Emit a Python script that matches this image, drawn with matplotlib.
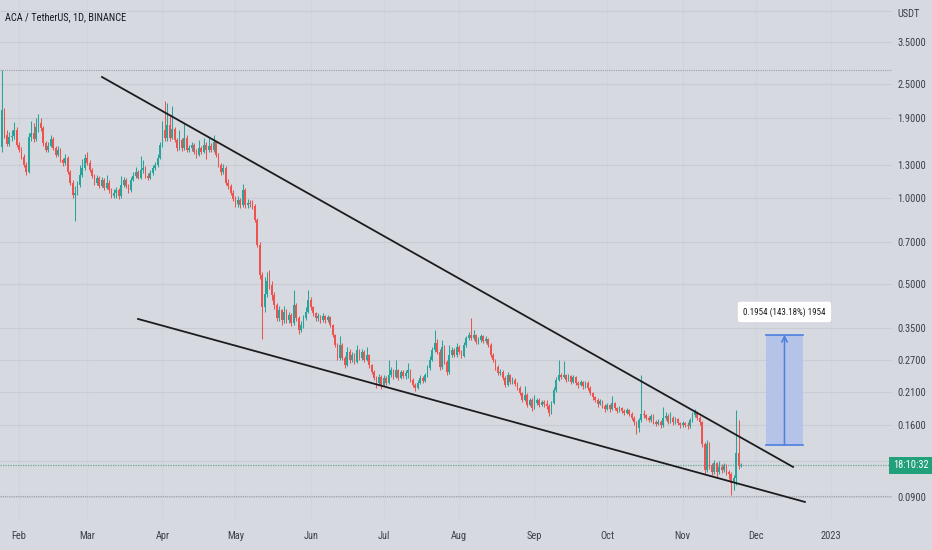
import matplotlib
matplotlib.use("Agg")
import matplotlib.pyplot as plt
import matplotlib.dates as mdates
import matplotlib.font_manager as fm
from matplotlib.font_manager import FontProperties
from matplotlib.ticker import NullLocator, FixedLocator
from datetime import datetime, timedelta

# ---------------- data ----------------
first_date = datetime(2022, 1, 25)
first_open = 1.50
close = [
 2.02, 1.66, 1.54, 1.63, 1.64, 1.73, 1.53, 1.47, 1.39, 1.30,
 1.23, 1.63, 1.68, 1.61, 1.76, 1.83, 1.75, 1.55, 1.47, 1.52,
 1.61, 1.49, 1.41, 1.47, 1.355, 1.32, 1.38, 1.23, 1.13, 1.02,
 1.04, 1.11, 1.20, 1.27, 1.38, 1.32, 1.25, 1.19, 1.13, 1.17,
 1.10, 1.15, 1.08, 1.13, 1.06, 1.015, 1.04, 1.06, 1.015, 1.11, 1.15,
 1.10, 1.064, 1.153, 1.19, 1.23, 1.175, 1.25, 1.27, 1.19, 1.175,
 1.22, 1.27, 1.30, 1.38, 1.53, 1.72, 1.62, 1.80, 1.62, 1.74,
 1.59, 1.49, 1.59, 1.49, 1.62, 1.47, 1.49, 1.53, 1.45, 1.41,
 1.49, 1.45, 1.53, 1.47, 1.52, 1.47, 1.56, 1.41, 1.30, 1.23,
 1.27, 1.13, 1.10, 1.04, 0.99, 0.95, 0.98, 0.943, 1.06, 0.943,
 0.96, 0.95, 0.935, 0.836, 0.684, 0.537, 0.415, 0.46, 0.51, 0.496, 0.457,
 0.422, 0.38, 0.405, 0.374, 0.40, 0.374, 0.389, 0.365, 0.422, 0.38,
 0.345, 0.359, 0.38, 0.40, 0.439, 0.415, 0.395, 0.38, 0.385, 0.374,
 0.385, 0.374, 0.383, 0.359, 0.331, 0.306, 0.275, 0.306, 0.275, 0.26,
 0.29, 0.271, 0.282, 0.267, 0.294, 0.275, 0.29, 0.271, 0.282, 0.26,
 0.246, 0.235, 0.226, 0.237, 0.222, 0.235, 0.226, 0.24, 0.25, 0.237,
 0.25, 0.235, 0.246, 0.238, 0.244, 0.25, 0.231, 0.222, 0.217, 0.226, 0.235,
 0.229, 0.24, 0.254, 0.271, 0.294, 0.31, 0.29, 0.256, 0.30, 0.267,
 0.246, 0.282, 0.294, 0.282, 0.30, 0.29, 0.28, 0.306, 0.323, 0.331,
 0.323, 0.331, 0.313, 0.318, 0.328, 0.315, 0.32, 0.306, 0.282, 0.271,
 0.256, 0.244, 0.246, 0.235, 0.222, 0.24, 0.227, 0.231, 0.224, 0.217,
 0.208, 0.197, 0.2045, 0.189, 0.197, 0.184, 0.192, 0.197, 0.189, 0.194,
 0.19, 0.187, 0.177, 0.192, 0.213, 0.231, 0.24, 0.237, 0.24, 0.231, 0.238,
 0.227, 0.237, 0.226, 0.221, 0.227, 0.219, 0.226, 0.217, 0.208, 0.201,
 0.197, 0.19, 0.195, 0.187, 0.183, 0.189, 0.183, 0.192, 0.184, 0.18,
 0.184, 0.18, 0.177, 0.181, 0.176, 0.17, 0.164, 0.157, 0.167, 0.175,
 0.174, 0.17, 0.167, 0.173, 0.165, 0.162, 0.165, 0.16, 0.17, 0.173,
 0.165, 0.17, 0.164, 0.168, 0.163, 0.16, 0.163, 0.161, 0.159, 0.167, 0.174,
 0.178, 0.17, 0.164, 0.138, 0.112, 0.138, 0.1164, 0.11, 0.118, 0.11,
 0.115, 0.112, 0.1155, 0.11, 0.108, 0.101, 0.105, 0.128, 0.1155, 0.1164,
]
high = [
 2.79, 2.05, 1.72, 1.70, 1.73, 1.84, 1.76, 1.56, 1.50, 1.42,
 1.33, 1.68, 1.86, 1.83, 1.90, 1.96, 1.90, 1.78, 1.58, 1.56,
 1.66, 1.63, 1.51, 1.52, 1.49, 1.38, 1.42, 1.40, 1.25, 1.15,
 1.10, 1.14, 1.30, 1.36, 1.42, 1.45, 1.35, 1.27, 1.21, 1.20,
 1.19, 1.18, 1.17, 1.20, 1.15, 1.08, 1.07, 1.09, 1.08, 1.19, 1.18,
 1.17, 1.12, 1.18, 1.23, 1.28, 1.25, 1.40, 1.35, 1.29, 1.22,
 1.25, 1.30, 1.33, 1.42, 1.57, 1.86, 2.18, 2.15, 1.95, 2.09,
 1.77, 1.62, 1.72, 1.62, 1.83, 1.65, 1.53, 1.57, 1.55, 1.48,
 1.59, 1.52, 1.62, 1.56, 1.63, 1.55, 1.66, 1.58, 1.43, 1.32,
 1.31, 1.29, 1.16, 1.12, 1.06, 1.01, 1.01, 1.00, 1.12, 1.08,
 0.99, 0.98, 0.98, 0.95, 0.85, 0.70, 0.55, 0.53, 0.55, 0.56, 0.51,
 0.47, 0.43, 0.42, 0.41, 0.42, 0.41, 0.40, 0.395, 0.476, 0.43,
 0.385, 0.37, 0.39, 0.415, 0.476, 0.45, 0.42, 0.40, 0.395, 0.39,
 0.395, 0.39, 0.39, 0.387, 0.362, 0.335, 0.31, 0.33, 0.31, 0.28,
 0.30, 0.295, 0.29, 0.286, 0.306, 0.297, 0.296, 0.293, 0.30, 0.285,
 0.263, 0.25, 0.238, 0.242, 0.24, 0.24, 0.238, 0.27, 0.256, 0.253,
 0.271, 0.253, 0.25, 0.25, 0.25, 0.265, 0.253, 0.234, 0.226, 0.23, 0.24,
 0.238, 0.245, 0.26, 0.28, 0.30, 0.345, 0.32, 0.295, 0.318, 0.305,
 0.27, 0.306, 0.30, 0.298, 0.31, 0.305, 0.294, 0.312, 0.33, 0.34,
 0.38, 0.345, 0.335, 0.325, 0.335, 0.332, 0.328, 0.323, 0.31, 0.286,
 0.274, 0.26, 0.252, 0.25, 0.238, 0.246, 0.243, 0.236, 0.234, 0.227,
 0.22, 0.21, 0.22, 0.207, 0.20, 0.199, 0.205, 0.20, 0.20, 0.197,
 0.197, 0.197, 0.19, 0.195, 0.218, 0.236, 0.27, 0.245, 0.268, 0.243, 0.242,
 0.24, 0.24, 0.239, 0.229, 0.23, 0.229, 0.229, 0.228, 0.219, 0.21,
 0.203, 0.199, 0.198, 0.197, 0.19, 0.192, 0.19, 0.203, 0.194, 0.186,
 0.187, 0.186, 0.183, 0.184, 0.183, 0.178, 0.172, 0.166, 0.17, 0.24,
 0.181, 0.176, 0.172, 0.176, 0.175, 0.167, 0.168, 0.167, 0.185, 0.178,
 0.175, 0.178, 0.172, 0.171, 0.17, 0.165, 0.166, 0.165, 0.165, 0.17, 0.178,
 0.183, 0.18, 0.172, 0.166, 0.14, 0.142, 0.14, 0.118, 0.121, 0.119,
 0.12, 0.117, 0.118, 0.117, 0.112, 0.11, 0.107, 0.181, 0.167, 0.118,
]
low = [
 1.45, 1.62, 1.51, 1.52, 1.58, 1.60, 1.50, 1.44, 1.37, 1.28,
 1.20, 1.22, 1.58, 1.57, 1.58, 1.70, 1.71, 1.52, 1.44, 1.45,
 1.50, 1.47, 1.39, 1.40, 1.33, 1.29, 1.30, 1.21, 1.11, 1.00,
 0.83, 1.02, 1.09, 1.18, 1.25, 1.30, 1.23, 1.17, 1.11, 1.11,
 1.08, 1.09, 1.06, 1.07, 1.04, 1.00, 1.00, 1.00, 0.99, 1.00, 1.09,
 1.08, 1.04, 1.05, 1.14, 1.17, 1.16, 1.16, 1.22, 1.17, 1.15,
 1.16, 1.20, 1.25, 1.28, 1.36, 1.50, 1.58, 1.58, 1.58, 1.60,
 1.56, 1.46, 1.47, 1.46, 1.47, 1.44, 1.44, 1.46, 1.42, 1.38,
 1.40, 1.42, 1.43, 1.36, 1.45, 1.44, 1.45, 1.39, 1.28, 1.20,
 1.21, 1.11, 1.07, 1.02, 0.97, 0.93, 0.93, 0.92, 0.93, 0.92,
 0.92, 0.93, 0.91, 0.82, 0.67, 0.52, 0.32, 0.40, 0.45, 0.48, 0.44,
 0.41, 0.37, 0.37, 0.36, 0.365, 0.365, 0.365, 0.355, 0.36, 0.37,
 0.335, 0.34, 0.35, 0.375, 0.395, 0.405, 0.385, 0.37, 0.372, 0.366,
 0.368, 0.366, 0.368, 0.352, 0.325, 0.30, 0.27, 0.272, 0.27, 0.255,
 0.258, 0.265, 0.266, 0.262, 0.264, 0.27, 0.27, 0.266, 0.268, 0.255,
 0.242, 0.231, 0.217, 0.222, 0.215, 0.219, 0.221, 0.224, 0.236, 0.233,
 0.234, 0.231, 0.232, 0.234, 0.233, 0.235, 0.227, 0.218, 0.212, 0.214, 0.223,
 0.225, 0.227, 0.237, 0.25, 0.268, 0.29, 0.285, 0.25, 0.253, 0.262,
 0.24, 0.243, 0.278, 0.277, 0.278, 0.285, 0.275, 0.277, 0.30, 0.318,
 0.318, 0.318, 0.308, 0.308, 0.314, 0.31, 0.31, 0.30, 0.277, 0.266,
 0.25, 0.24, 0.24, 0.23, 0.218, 0.22, 0.223, 0.224, 0.22, 0.213,
 0.204, 0.193, 0.195, 0.185, 0.187, 0.18, 0.182, 0.189, 0.186, 0.187,
 0.186, 0.183, 0.173, 0.175, 0.19, 0.21, 0.228, 0.232, 0.234, 0.227, 0.228,
 0.223, 0.225, 0.222, 0.217, 0.219, 0.215, 0.217, 0.213, 0.204, 0.197,
 0.193, 0.186, 0.188, 0.184, 0.179, 0.181, 0.179, 0.181, 0.181, 0.177,
 0.178, 0.177, 0.174, 0.175, 0.173, 0.167, 0.16, 0.15, 0.152, 0.164,
 0.17, 0.167, 0.164, 0.165, 0.162, 0.159, 0.16, 0.157, 0.158, 0.167,
 0.162, 0.163, 0.161, 0.162, 0.16, 0.157, 0.158, 0.158, 0.156, 0.157, 0.165,
 0.171, 0.167, 0.16, 0.135, 0.108, 0.11, 0.113, 0.107, 0.108, 0.105,
 0.108, 0.109, 0.11, 0.107, 0.104, 0.0915, 0.095, 0.099, 0.113, 0.1145,
]
assert len(close) == len(high) == len(low)

price_ticks = [4.5, 3.5, 2.5, 1.9, 1.3, 1.0, 0.7, 0.5, 0.35, 0.27, 0.21, 0.16, 0.12, 0.09]
price_labels = ["", "3.5000", "2.5000", "1.9000", "1.3000", "1.0000", "0.7000", "0.5000",
                "0.3500", "0.2700", "0.2100", "0.1600", "", "0.0900"]
month_dates = [datetime(2022, m, 1) for m in range(2, 13)] + [datetime(2023, 1, 1)]
month_labels = ["Feb", "Mar", "Apr", "May", "Jun", "Jul", "Aug", "Sep", "Oct", "Nov", "Dec", "2023"]

# drawn objects
upper_line_dates = [datetime(2022, 3, 7, 3), datetime(2022, 12, 16, 10)]
upper_line_prices = [2.641, 0.1146]
lower_line_dates = [datetime(2022, 3, 21, 23), datetime(2022, 12, 21, 7)]
lower_line_prices = [0.377, 0.0865]
high_marker = 2.79
low_marker = 0.0905
last_price = 0.1164
measure_start = datetime(2022, 12, 5, 7)
measure_end = datetime(2022, 12, 20, 12)
measure_bottom = 0.13647
measure_top = 0.33187
measure_text = "0.1954 (143.18%) 1954"
measure_label_price = 0.399
title = "ACA / TetherUS, 1D, BINANCE"
countdown = "18:10:32"

# ---------------- style ----------------
names = {f.name for f in fm.fontManager.ttflist}
FAM, STRETCH = "Roboto", "normal"
for n in ["Roboto Condensed", "Open Sans Condensed", "Liberation Sans Narrow", "Arial Narrow"]:
    if n in names:
        FAM = n
        break
else:
    p = fm.findfont(FontProperties(family="DejaVu Sans", stretch="condensed"))
    if "ondensed" in p:
        FAM, STRETCH = "DejaVu Sans", "condensed"
plt.rcParams["font.family"] = [FAM, "DejaVu Sans"]
plt.rcParams["font.stretch"] = STRETCH

BG = "#d6d9e0"
GRID = "#c9ccd4"
UP = "#26a69a"
DOWN = "#ef5350"
TXT = "#3b3f4a"

W, H = 932, 550
fig = plt.figure(figsize=(W / 100, H / 100), dpi=100, facecolor=BG)
ax = fig.add_axes([0, 28 / H, 892 / W, 522 / H], facecolor=BG)
for s in ax.spines.values():
    s.set_visible(False)

dates = [first_date + timedelta(days=i) for i in range(len(close))]
opens = [first_open] + close[:-1]
xd = mdates.date2num(dates)

cols = [UP if c >= o else DOWN for o, c in zip(opens, close)]
ax.vlines(xd, low, high, colors=cols, linewidth=0.75, zorder=3)
bottoms = [min(o, c) for o, c in zip(opens, close)]
heights = [max(abs(c - o), min(o, c) * 0.004) for o, c in zip(opens, close)]
ax.bar(xd, heights, bottom=bottoms, width=0.7, color=cols, linewidth=0, zorder=4)

ax.set_yscale("log")
ax.set_ylim(0.0736, 4.907)
ax.set_xlim(mdates.date2num(datetime(2022, 1, 24, 4)), mdates.date2num(datetime(2023, 1, 26, 3)))

ax.yaxis.set_major_locator(FixedLocator(price_ticks))
ax.yaxis.set_minor_locator(NullLocator())
ax.set_yticks(price_ticks)
ax.set_yticklabels(price_labels)
ax.yaxis.tick_right()
ax.tick_params(axis="y", length=0, pad=4, labelsize=7.5, labelcolor=TXT)

ax.set_xticks(mdates.date2num(month_dates))
ax.set_xticklabels(month_labels)
ax.xaxis.set_minor_locator(NullLocator())
ax.tick_params(axis="x", length=0, pad=6.5, labelsize=7.5, labelcolor=TXT)

ax.grid(True, axis="y", color=GRID, linewidth=0.8, zorder=0)
ax.grid(True, axis="x", color="#d1d4db", linewidth=0.8, zorder=0)
ax.set_axisbelow(True)

# marker lines
ax.axhline(high_marker, color="#9a9ea8", linestyle=(0, (1, 1)), linewidth=0.8, zorder=2)
ax.axhline(low_marker, color="#9a9ea8", linestyle=(0, (1, 1)), linewidth=0.8, zorder=2)
ax.axhline(last_price, color="#6aa897", linestyle=(0, (1, 1)), linewidth=0.9, zorder=2)

# trend lines
ax.plot(mdates.date2num(upper_line_dates), upper_line_prices, color="#1c1c1f", linewidth=1.3, zorder=5)
ax.plot(mdates.date2num(lower_line_dates), lower_line_prices, color="#1c1c1f", linewidth=1.3, zorder=5)

# measurement box
ms, me = mdates.date2num(measure_start), mdates.date2num(measure_end)
mc = (ms + me) / 2
ax.fill_between([ms, me], measure_bottom, measure_top, color="#b3c2e8", alpha=0.95, linewidth=0, zorder=2)
ax.plot([ms, me], [measure_top, measure_top], color="#4b7fe0", linewidth=1.2, zorder=3)
ax.plot([ms, me], [measure_bottom, measure_bottom], color="#4b7fe0", linewidth=1.2, zorder=3)
ax.annotate("", xy=(mc, measure_top), xytext=(mc, measure_bottom),
            arrowprops=dict(arrowstyle="->", color="#4b7fe0", lw=1.1, shrinkA=0, shrinkB=0), zorder=3)
ax.text(mc, measure_label_price, measure_text, ha="center", va="center", fontsize=6.5, color="#1c1c1f",
        bbox=dict(boxstyle="round,pad=0.6,rounding_size=0.25", facecolor="white", edgecolor="none"), zorder=6)

# texts
fig.text(5 / W, 1 - 17 / H, title, ha="left", va="center", fontsize=7.5, color="#131722")
fig.text(897 / W, 1 - 14 / H, "USDT", ha="left", va="center", fontsize=7.5, color=TXT)
fig.text(910.5 / W, 1 - 465.5 / H, countdown, ha="center", va="center", fontsize=7.5, color="white",
         bbox=dict(boxstyle="square,pad=0.35", facecolor="#22a07c", edgecolor="none"), zorder=10)

fig.savefig("out.png", dpi=100, facecolor=BG)
